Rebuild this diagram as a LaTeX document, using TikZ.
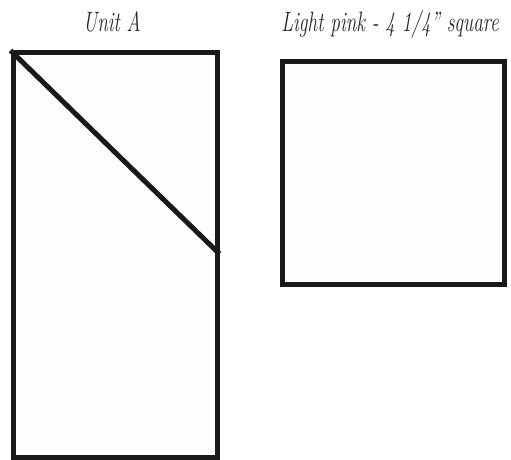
\documentclass[tikz,border=0pt]{standalone}
\usetikzlibrary{calc}
\newcommand{\narrowtxt}[1]{\scalebox{0.69}[1]{#1}}
\begin{document}
\begin{tikzpicture}[x=1pt,y=-1pt,
  piece/.style={draw=black!90,line width=5pt,fill={rgb,255:red,253;green,253;blue,251}},
  seam/.style={draw=black!90,line width=5pt},
  label/.style={font=\fontsize{28}{32}\selectfont\itshape,text=black!85,inner sep=0pt}]
\useasboundingbox (0,0) rectangle (511,460);
\fill[white] (0,0) rectangle (511,460);
\node[piece,minimum width=204pt,minimum height=404pt,inner sep=0pt,anchor=north west] (unitA) at (10.5,50.5) {};
\node[piece,minimum width=222pt,minimum height=222pt,inner sep=0pt,anchor=north west] (pink) at (279.5,59.5) {};
\coordinate (d) at ($(unitA.north east)!0.4975!(unitA.south east)$);
\draw[seam] (unitA.north west) -- (d);
\node[label,anchor=base] (tA) at (112,32) {\narrowtxt{Unit A}};
\node[label,anchor=base] (tP) at (390,32) {\narrowtxt{Light pink - 4 1/4" square}};
\end{tikzpicture}
\end{document}
